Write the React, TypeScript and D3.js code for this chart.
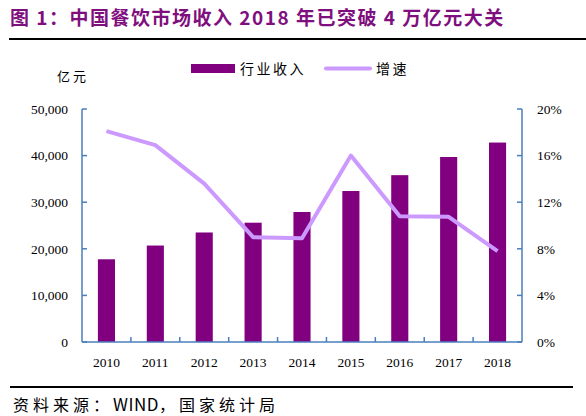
import React from "react";
import * as d3 from "d3";

const years = ["2010", "2011", "2012", "2013", "2014", "2015", "2016", "2017", "2018"];
const revenue = [17750, 20700, 23500, 25600, 27900, 32400, 35800, 39700, 42800];
const growth = [18.1, 16.9, 13.6, 9.0, 8.9, 16.0, 10.8, 10.75, 7.8];
const leftTicks = [0, 10000, 20000, 30000, 40000, 50000];
const rightTicks = [0, 4, 8, 12, 16, 20];

const W = 586, H = 416;
const M = { left: 82, right: 522, top: 109, bottom: 342 };

export default function App() {
  const x = d3.scaleBand<string>().domain(years).range([M.left, M.right]).paddingInner(0.65).paddingOuter(0.325);
  const band = d3.scaleBand<string>().domain(years).range([M.left, M.right]);
  const yL = d3.scaleLinear().domain([0, 50000]).range([M.bottom, M.top]);
  const yR = d3.scaleLinear().domain([0, 20]).range([M.bottom, M.top]);
  const line = d3.line<number>().x((_, i) => band(years[i])! + band.bandwidth() / 2).y((d) => yR(d));
  const fmt = d3.format(",");
  const axisColor = "#4a7ebb";
  const serif = "'Liberation Serif', 'Times New Roman', serif";
  const cjk = "'Noto Sans CJK SC', sans-serif";
  return (
    <svg width={W} height={H} style={{ position: "absolute", left: 0, top: 0 }}>
      <rect width={W} height={H} fill="#fff" />
      <text x={10} y={25} fill="#7f0f7e" fontSize={19} fontWeight="bold" fontFamily={cjk} letterSpacing={1.5}>
        图 1：中国餐饮市场收入 2018 年已突破 4 万亿元大关
      </text>
      <line x1={9} x2={586} y1={39} y2={39} stroke="#000" strokeWidth={2} />

      <text x={57} y={81} fontSize={13} fontFamily={cjk} fill="#000" letterSpacing={3}>亿元</text>
      <rect x={191} y={64} width={44} height={9} fill="#800080" />
      <text x={240} y={73.5} fontSize={14} fontFamily={cjk} fill="#000" letterSpacing={2.5}>行业收入</text>
      <line x1={326} x2={370} y1={68.5} y2={68.5} stroke="#cc99ff" strokeWidth={4} strokeLinecap="round" />
      <text x={376} y={73.5} fontSize={14} fontFamily={cjk} fill="#000" letterSpacing={2.5}>增速</text>

      {years.map((y, i) => (
        <rect key={y} x={x(y)!} y={yL(revenue[i])} width={x.bandwidth()} height={M.bottom - yL(revenue[i])} fill="#800080" />
      ))}

      <path d={line(growth)!} fill="none" stroke="#cc99ff" strokeWidth={4} strokeLinejoin="round" />

      {/* left axis */}
      <line x1={M.left} x2={M.left} y1={M.top} y2={M.bottom} stroke={axisColor} strokeWidth={1.5} />
      {leftTicks.map((t) => (
        <g key={t}>
          <line x1={M.left} x2={M.left + 5} y1={yL(t)} y2={yL(t)} stroke={axisColor} strokeWidth={1.5} />
          <text x={68} y={yL(t)} dy="0.35em" textAnchor="end" fontSize={13.5} fontFamily={serif} fill="#000">{fmt(t)}</text>
        </g>
      ))}
      {/* right axis */}
      <line x1={M.right} x2={M.right} y1={M.top} y2={M.bottom} stroke={axisColor} strokeWidth={1.5} />
      {rightTicks.map((t) => (
        <g key={t}>
          <line x1={M.right - 5} x2={M.right} y1={yR(t)} y2={yR(t)} stroke={axisColor} strokeWidth={1.5} />
          <text x={537} y={yR(t)} dy="0.35em" textAnchor="start" fontSize={13.5} fontFamily={serif} fill="#000">{t}%</text>
        </g>
      ))}
      {/* bottom axis */}
      <line x1={M.left} x2={M.right} y1={M.bottom} y2={M.bottom} stroke={axisColor} strokeWidth={1.5} />
      {years.slice(1).map((y) => (
        <line key={y} x1={band(y)!} x2={band(y)!} y1={M.bottom} y2={M.bottom - 5} stroke={axisColor} strokeWidth={1.5} />
      ))}
      {years.map((y) => (
        <text key={y} x={band(y)! + band.bandwidth() / 2} y={362} dy="0.35em" textAnchor="middle" fontSize={13.5} fontFamily={serif} fill="#000">{y}</text>
      ))}

      <line x1={10} x2={573} y1={387} y2={387} stroke="#000" strokeWidth={2} />
      <text x={13} y={411} fontSize={16} fontFamily={cjk} fill="#000">
        <tspan letterSpacing={4}>资料来源：</tspan>
        <tspan fontSize={17} letterSpacing={0.5}>WIND</tspan>
        <tspan letterSpacing={4}>，国家统计局</tspan>
      </text>
    </svg>
  );
}
